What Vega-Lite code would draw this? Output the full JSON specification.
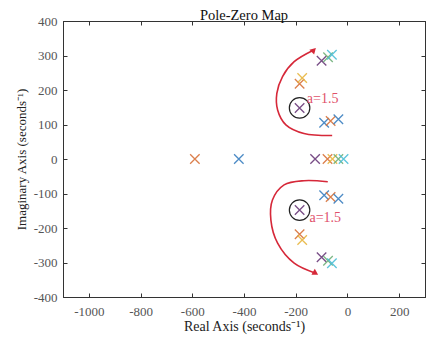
{
  "$schema": "https://vega.github.io/schema/vega-lite/v6.json",
  "width": 362,
  "height": 276,
  "autosize": "none",
  "padding": {"left": 63, "top": 21, "right": 2, "bottom": 44},
  "title": {"text": "Pole-Zero Map", "font": "Liberation Serif", "fontSize": 14.5, "fontWeight": "normal", "color": "#111", "offset": -8},
  "config": {
    "view": {"stroke": "#333", "strokeWidth": 1},
    "axis": {
      "labelFont": "Liberation Serif", "titleFont": "Liberation Serif",
      "labelFontSize": 13, "titleFontSize": 14, "titleFontWeight": "normal",
      "labelColor": "#555", "titleColor": "#222",
      "domainColor": "#333", "tickColor": "#333", "tickSize": -4,
      "grid": false
    }
  },
  "datasets": {
    "poles": [
      {"re": -590, "im": 0, "g": "k2"},
      {"re": -420, "im": 0, "g": "k1"},
      {"re": -125, "im": 0, "g": "k4"},
      {"re": -77, "im": 0, "g": "k2"},
      {"re": -58, "im": 0, "g": "k3"},
      {"re": -35, "im": 0, "g": "k5"},
      {"re": -15, "im": 0, "g": "k6"},
      {"re": -90, "im": 105, "g": "k1"},
      {"re": -65, "im": 110, "g": "k2"},
      {"re": -35, "im": 115, "g": "k1"},
      {"re": -90, "im": -105, "g": "k1"},
      {"re": -65, "im": -110, "g": "k2"},
      {"re": -35, "im": -115, "g": "k1"},
      {"re": -185, "im": 218, "g": "k2"},
      {"re": -175, "im": 235, "g": "k3"},
      {"re": -185, "im": -218, "g": "k2"},
      {"re": -175, "im": -235, "g": "k3"},
      {"re": -100, "im": 285, "g": "k4"},
      {"re": -75, "im": 295, "g": "k5"},
      {"re": -60, "im": 302, "g": "k6"},
      {"re": -100, "im": -285, "g": "k4"},
      {"re": -75, "im": -295, "g": "k5"},
      {"re": -60, "im": -302, "g": "k6"},
      {"re": -185, "im": 148, "g": "k4"},
      {"re": -185, "im": -148, "g": "k4"}
    ],
    "circles": [
      {"re": -185, "im": 148},
      {"re": -185, "im": -148}
    ],
    "arrows": [
      {"arrow": "up", "i": 0, "re": -59, "im": 68},
      {"arrow": "up", "i": 1, "re": -168, "im": 74},
      {"arrow": "up", "i": 2, "re": -238, "im": 99},
      {"arrow": "up", "i": 3, "re": -270, "im": 142},
      {"arrow": "up", "i": 4, "re": -273, "im": 190},
      {"arrow": "up", "i": 5, "re": -251, "im": 239},
      {"arrow": "up", "i": 6, "re": -206, "im": 282},
      {"arrow": "up", "i": 7, "re": -130, "im": 316},
      {"arrow": "down", "i": 0, "re": -76, "im": -66},
      {"arrow": "down", "i": 1, "re": -168, "im": -63},
      {"arrow": "down", "i": 2, "re": -245, "im": -75},
      {"arrow": "down", "i": 3, "re": -290, "im": -119},
      {"arrow": "down", "i": 4, "re": -296, "im": -177},
      {"arrow": "down", "i": 5, "re": -270, "im": -244},
      {"arrow": "down", "i": 6, "re": -206, "im": -302},
      {"arrow": "down", "i": 7, "re": -123, "im": -331}
    ],
    "labels": [
      {"re": -157, "im": 174, "t": "a=1.5"},
      {"re": -147, "im": -171, "t": "a=1.5"}
    ]
  },
  "resolve": {"axis": {"x": "independent", "y": "independent"}},
  "layer": [
    {
      "mark": {"type": "rule", "strokeDash": [1, 1], "color": "#555", "strokeWidth": 1},
      "encoding": {
        "x": {"datum": 0, "type": "quantitative", "scale": {"domain": [-1100, 300], "nice": false},
          "axis": {"orient": "top", "values": [-1000, -800, -600, -400, -200, 0, 200], "labels": false, "title": null}}
      }
    },
    {
      "mark": {"type": "rule", "strokeDash": [1, 1], "color": "#555", "strokeWidth": 1},
      "encoding": {
        "y": {"datum": 0, "type": "quantitative", "scale": {"domain": [-400, 400], "nice": false},
          "axis": {"orient": "right", "values": [-400, -300, -200, -100, 0, 100, 200, 300, 400], "labels": false, "title": null}}
      }
    },
    {
      "data": {"name": "arrows"},
      "mark": {"type": "line", "color": "#d62839", "strokeWidth": 1.6, "interpolate": "catmull-rom"},
      "encoding": {
        "x": {"field": "re", "type": "quantitative", "axis": null},
        "y": {"field": "im", "type": "quantitative", "axis": null},
        "detail": {"field": "arrow"},
        "order": {"field": "i"}
      }
    },
    {
      "data": {"name": "arrows"},
      "transform": [{"filter": "datum.arrow == 'up' && datum.i == 7"}],
      "mark": {"type": "point", "shape": "triangle-up", "filled": true, "color": "#d62839", "size": 45, "angle": 45, "opacity": 1},
      "encoding": {
        "x": {"field": "re", "type": "quantitative", "axis": null},
        "y": {"field": "im", "type": "quantitative", "axis": null}
      }
    },
    {
      "data": {"name": "arrows"},
      "transform": [{"filter": "datum.arrow == 'down' && datum.i == 7"}],
      "mark": {"type": "point", "shape": "triangle-up", "filled": true, "color": "#d62839", "size": 45, "angle": 120, "opacity": 1},
      "encoding": {
        "x": {"field": "re", "type": "quantitative", "axis": null},
        "y": {"field": "im", "type": "quantitative", "axis": null}
      }
    },
    {
      "data": {"name": "circles"},
      "mark": {"type": "point", "shape": "circle", "filled": false, "color": "#222", "size": 420, "strokeWidth": 1.2, "opacity": 1},
      "encoding": {
        "x": {"field": "re", "type": "quantitative", "axis": null},
        "y": {"field": "im", "type": "quantitative", "axis": null}
      }
    },
    {
      "data": {"name": "poles"},
      "mark": {"type": "point", "shape": "M-1,-1L1,1M1,-1L-1,1", "filled": false, "size": 90, "strokeWidth": 1.3, "opacity": 0.9},
      "encoding": {
        "x": {"field": "re", "type": "quantitative",
          "axis": {"orient": "bottom", "values": [-1000, -800, -600, -400, -200, 0, 200], "labelExpr": "'' + datum.value", "labelPadding": 12, "title": "Real Axis (seconds⁻¹)", "titlePadding": 1}},
        "y": {"field": "im", "type": "quantitative",
          "axis": {"orient": "left", "values": [-400, -300, -200, -100, 0, 100, 200, 300, 400], "labelExpr": "'' + datum.value", "labelPadding": 10, "title": "Imaginary Axis (seconds⁻¹)", "titlePadding": 5, "titleFontSize": 13}},
        "color": {"field": "g", "type": "nominal", "legend": null,
          "scale": {"domain": ["k1", "k2", "k3", "k4", "k5", "k6"], "range": ["#3a7fc0", "#d9733a", "#e8b640", "#6a3a7a", "#6fb07a", "#4dbfd8"]}}
      }
    },
    {
      "data": {"name": "labels"},
      "mark": {"type": "text", "font": "Liberation Serif", "fontSize": 14, "color": "#e0506a", "align": "left", "baseline": "middle"},
      "encoding": {
        "x": {"field": "re", "type": "quantitative", "axis": null},
        "y": {"field": "im", "type": "quantitative", "axis": null},
        "text": {"field": "t"}
      }
    }
  ]
}
